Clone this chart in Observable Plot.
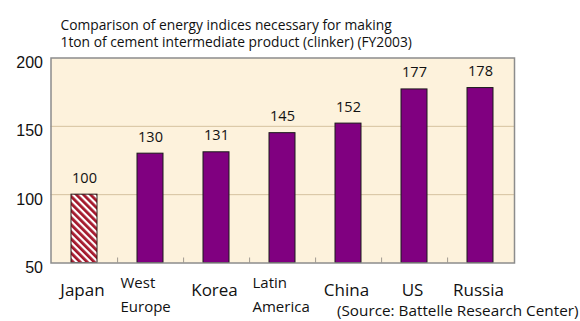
<!DOCTYPE html>
<html>
<head>
<meta charset="utf-8">
<script src="https://cdn.jsdelivr.net/npm/d3@7"></script>
<script src="https://cdn.jsdelivr.net/npm/@observablehq/plot@0.6"></script>
<style>
  body { margin: 0; background: #fff; }
  #chart svg { display: block; }
</style>
</head>
<body>
<div id="chart"></div>
<script>
// Energy index per tonne of clinker, Japan = 100
const regions = ["Japan", "West Europe", "Korea", "Latin America", "China", "US", "Russia"];
const indices = [100, 130, 131, 145, 152, 177, 178];
const axisLabels = ["Japan", "West\nEurope", "Korea", "Latin\nAmerica", "China", "US", "Russia"];
const yTicks = [50, 100, 150, 200];
const gridValues = [100, 150];
const titleText = "Comparison of energy indices necessary for making\n1ton of cement intermediate product (clinker) (FY2003)";
const sourceNote = "(Source: Battelle Research Center)";
const reference = "Japan";

const data = regions.map((region, i) => ({region, value: indices[i], label: axisLabels[i]}));
const singleLine = data.filter(d => !d.label.includes("\n"));
const doubleLine = data.filter(d => d.label.includes("\n"));

const W = 580, H = 321;
const mt = 57.5, mb = 58.5, ml = 50.5, mr = 66;
const step = (W - ml - mr) / regions.length;
const plotH = H - mt - mb;
const font = "'Open Sans', Lato, sans-serif";
const purple = "#800080";

const chart = Plot.plot({
  width: W,
  height: H,
  marginTop: mt,
  marginBottom: mb,
  marginLeft: ml,
  marginRight: mr,
  style: {fontFamily: font, background: "transparent", overflow: "visible", color: "#111"},
  x: {domain: regions, paddingInner: 0.6, paddingOuter: 0.3, axis: null},
  y: {domain: [yTicks[0], yTicks[yTicks.length - 1]], axis: null},
  marks: [
    Plot.frame({fill: "#fdf2dc"}),
    Plot.ruleY(gridValues, {stroke: "#d5c29f", strokeWidth: 1}),
    // small separators between categories along the base
    Plot.ruleX(regions.slice(0, -1), {x: d => d, dx: step / 2, insetTop: plotH - 5, stroke: "#a09a90"}),
    Plot.barY(data.filter(d => d.region === reference), {
      x: "region", y1: yTicks[0], y2: "value", fill: "url(#hatch)", stroke: "#2a1a1a", strokeWidth: 1
    }),
    Plot.barY(data.filter(d => d.region !== reference), {
      x: "region", y1: yTicks[0], y2: "value", fill: purple, stroke: "#1a1a1a", strokeWidth: 1
    }),
    Plot.frame({stroke: "#8c8c8c", strokeWidth: 1.5}),
    // value labels
    Plot.text(data, {
      x: "region", y: "value", text: d => String(d.value),
      lineAnchor: "bottom", dy: -12, fontSize: 14.5, fill: "#111"
    }),
    // y tick labels
    Plot.text(yTicks, {
      y: d => d, text: d => String(d), frameAnchor: "left", textAnchor: "end",
      dx: -8, dy: 5, fontSize: 16, fontFamily: "'Liberation Sans', Arial, sans-serif", fill: "#111"
    }),
    // category labels
    Plot.text(singleLine, {
      x: "region", text: "label", frameAnchor: "bottom", lineAnchor: "top",
      dy: 20.7, fontSize: 17, dx: -2, fill: "#111"
    }),
    Plot.text(doubleLine, {
      x: "region", text: "label", frameAnchor: "bottom", lineAnchor: "top", textAnchor: "start",
      dx: -30, dy: 8, fontSize: 15, lineHeight: 1.6, fill: "#111"
    }),
    // title
    Plot.text([titleText], {
      text: d => d, frameAnchor: "top-left", textAnchor: "start", lineAnchor: "top",
      dx: 9.5, dy: -40.5, fontSize: 13.8, lineHeight: 1.24, fill: "#111"
    }),
    // source
    Plot.text([sourceNote], {
      text: d => d, frameAnchor: "bottom-right", textAnchor: "end", lineAnchor: "top",
      dx: 64, dy: 42.6, fontSize: 15.3, fill: "#111"
    })
  ]
});

d3.select(chart).insert("defs", ":first-child").html(
  `<pattern id="hatch" patternUnits="userSpaceOnUse" width="5" height="5" patternTransform="rotate(-45)">
     <rect width="5" height="5" fill="#ffffff"/>
     <rect width="2.8" height="5" fill="#a3172b"/>
   </pattern>`
);

document.getElementById("chart").appendChild(chart);
</script>
</body>
</html>
